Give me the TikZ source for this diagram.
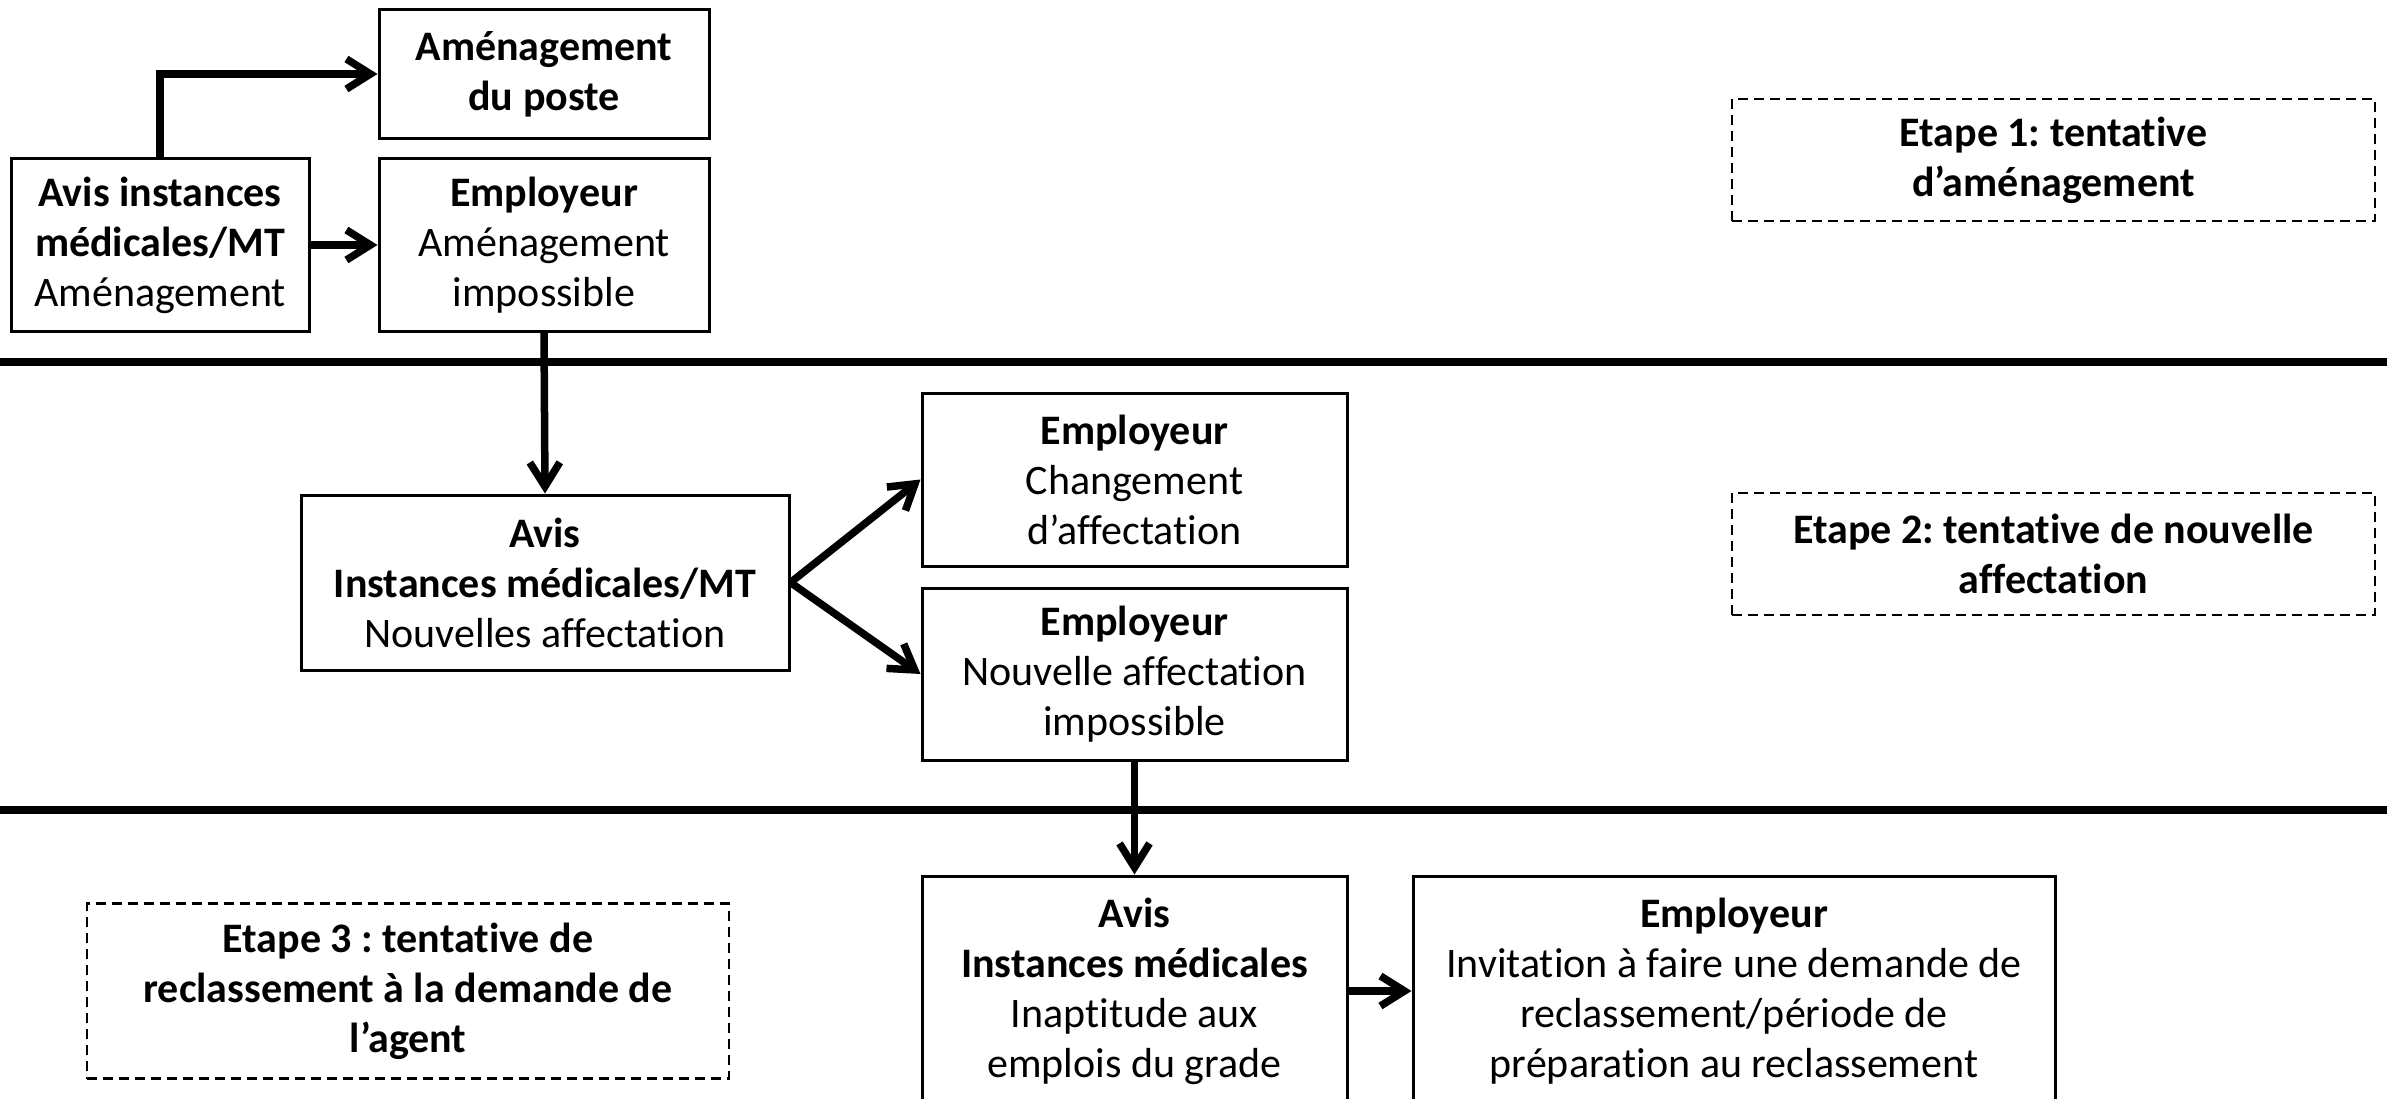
\documentclass[tikz,border=0pt]{standalone}
\usepackage{fontspec}
\setmainfont{Carlito}[Ligatures=NoCommon]
\usetikzlibrary{arrows.meta}
\frenchspacing

\begin{document}
\begin{tikzpicture}[x=1pt,y=-1pt,
  every node/.style={font=\fontsize{42}{50}\selectfont, align=center, inner sep=0pt},
  box/.style={draw, line width=3pt},
  stagebox/.style={draw, line width=2.5pt, dash pattern=on 10pt off 6pt, font=\fontsize{42}{50}\selectfont\bfseries},
  sep/.style={line width=8pt},
  flow/.style={line width=7.5pt, -{Straight Barb[length=24pt,width=30pt]}}]

\useasboundingbox (0,0) rectangle (2387,1099);
\clip (0,0) rectangle (2387,1099);
\fill[white] (0,0) rectangle (2387,1099);

% stage separators
\coordinate (s1l) at (0,362);    \coordinate (s1r) at (2387,362);
\coordinate (s2l) at (0,810);    \coordinate (s2r) at (2387,810);
\draw[sep] (s1l) -- (s1r);
\draw[sep] (s2l) -- (s2r);

% step 1
\node[box, minimum width=330pt, minimum height=129pt] (poste) at (544,74)
  {\textbf{Aménagement}\\\textbf{du poste}};
\node[box, minimum width=298pt, minimum height=173pt] (avisA) at (160,245)
  {\textbf{Avis instances}\\\textbf{médicales/MT}\\Aménagement};
\node[box, minimum width=330pt, minimum height=173pt] (empA) at (544,245)
  {\textbf{Employeur}\\Aménagement\\impossible};

% step 2
\node[box, minimum width=488pt, minimum height=175pt] (avisB) at (545,582.5)
  {\textbf{Avis}\\\textbf{Instances médicales/MT}\\Nouvelles affectation};
\node[box, minimum width=425pt, minimum height=173pt] (empB) at (1134.5,479.5)
  {\textbf{Employeur}\\Changement\\d’affectation};
\node[box, minimum width=425pt, minimum height=172pt] (empC) at (1134.5,674)
  {\textbf{Employeur}\\Nouvelle affectation\\impossible};

% step 3
\node[box, minimum width=425pt, minimum height=230pt] (avisC) at (1134.5,991)
  {\textbf{Avis}\\\textbf{Instances médicales}\\Inaptitude aux\\emplois du grade};
\node[box, minimum width=642pt, minimum height=230pt] (empD) at (1734,991)
  {\textbf{Employeur}\\Invitation à faire une demande de\\reclassement/période de\\préparation au reclassement};

% stage labels
\node[stagebox, minimum width=643pt, minimum height=122pt] (etape1) at (2053.5,160)
  {Etape 1: tentative\\d’aménagement};
\node[stagebox, minimum width=643pt, minimum height=122pt] (etape2) at (2053.5,554)
  {Etape 2: tentative de nouvelle\\affectation};
\node[stagebox, minimum width=642pt, minimum height=175pt] (etape3) at (408,991)
  {Etape 3 : tentative de\\reclassement à la demande de\\l’agent};

% connectors
\draw[flow] (avisA.north) |- (poste.west);
\draw[flow] (avisA.east) -- (empA.west);
\draw[flow] (empA.south) -- (avisB.north);
\draw[flow] (avisB.east) -- (empB.west);
\draw[flow] (avisB.east) -- (empC.west);
\draw[flow] (empC.south) -- (avisC.north);
\draw[flow] (avisC.east) -- (empD.west);

\end{tikzpicture}
\end{document}
